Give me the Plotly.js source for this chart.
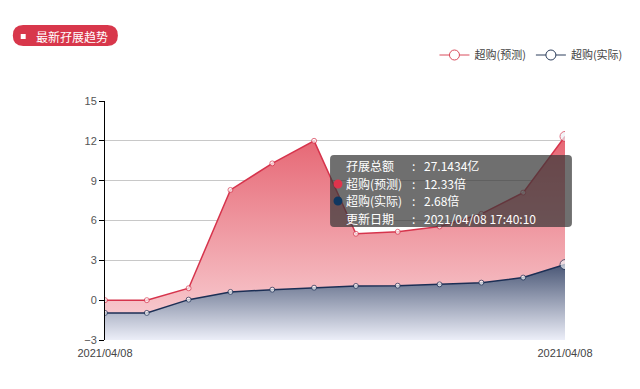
<!DOCTYPE html>
<html>
<head>
<meta charset="utf-8">
<script src="https://cdn.plot.ly/plotly-3.0.1.min.js"></script>
<style>html,body{margin:0;padding:0;background:#fff;}#chart{width:640px;height:389px;}</style>
</head>
<body>
<div id="chart"></div>
<script>
// ---- data ----
const categories = ["2021/04/08","2021/04/08","2021/04/08","2021/04/08","2021/04/08","2021/04/08",
                    "2021/04/08","2021/04/08","2021/04/08","2021/04/08","2021/04/08","2021/04/08"];
const forecast = [0, 0, 0.9, 8.3, 10.3, 12.0, 5.0, 5.15, 5.55, 6.5, 8.1, 12.33];
const actual   = [-0.96, -0.96, 0.04, 0.62, 0.79, 0.94, 1.07, 1.09, 1.19, 1.32, 1.7, 2.68];
const seriesNames = ["超购(预测)", "超购(实际)"];
const yTicks = [-3, 0, 3, 6, 9, 12, 15];
const titleText = "最新孖展趋势";
const tipLabels = ["孖展总额", "超购(预测)", "超购(实际)", "更新日期"];
const tipValues = ["27.1434亿", "12.33倍", "2.68倍", "2021/04/08 17:40:10"];

// ---- layout helpers ----
const W = 640, H = 389, ML = 105, MR = 71, MT = 101, MB = 49;
const PW = W - ML - MR, PH = H - MT - MB;
const px = x => (x - ML) / PW;
const py = y => (H - MB - y) / PH;
const idx = categories.map((_, i) => i);
const yMin = yTicks[0], yMax = yTicks[yTicks.length - 1];
const base = idx.map(() => yMin);
const last = idx.length - 1;
const font = '"Noto Sans CJK SC", "Noto Sans", sans-serif';
const numFont = '"Liberation Sans", Arial, sans-serif';

const redLine = '#d6344c', navy = '#1c2f55';

function markerSizes() { return idx.map(i => i === last ? 10 : 5); }
function markerFill() { return idx.map(i => i === last ? '#eef0f4' : '#fff'); }

const traces = [
  {x: idx, y: base, mode: 'lines', line: {width: 0}, showlegend: false, hoverinfo: 'skip'},
  {x: idx, y: forecast, mode: 'lines+markers', fill: 'tonexty', name: seriesNames[0], showlegend: false,
   line: {color: redLine, width: 1.5},
   marker: {size: markerSizes(), color: markerFill(), line: {color: redLine, width: 1}},
   fillgradient: {type: 'vertical', start: yMin, stop: Math.max(...forecast),
     colorscale: [[0, '#fad6da'], [1, '#e66673']]}},
  {x: idx, y: base, mode: 'lines', line: {width: 0}, showlegend: false, hoverinfo: 'skip'},
  {x: idx, y: actual, mode: 'lines+markers', fill: 'tonexty', name: seriesNames[1], showlegend: false,
   line: {color: navy, width: 1.5},
   marker: {size: markerSizes(), color: markerFill(), line: {color: navy, width: 1}},
   fillgradient: {type: 'vertical', start: yMin, stop: Math.max(...actual),
     colorscale: [[0, '#eceef8'], [1, '#4a5776']]}},
  {x: [null], y: [null], mode: 'lines+markers', name: seriesNames[0],
   line: {color: '#d94c5c', width: 1}, marker: {size: 10, color: '#fff', line: {color: '#d94c5c', width: 1}}},
  {x: [null], y: [null], mode: 'lines+markers', name: seriesNames[1],
   line: {color: '#2c3e5c', width: 1}, marker: {size: 10, color: '#fff', line: {color: '#2c3e5c', width: 1}}}
];

// rounded rect path in paper coords from pixel box
function rrect(x0, y0, x1, y1, r) {
  const P = (x, y) => px(x) + ',' + py(y);
  return 'M' + P(x0 + r, y0) + ' L' + P(x1 - r, y0) + ' Q' + P(x1, y0) + ' ' + P(x1, y0 + r) +
    ' L' + P(x1, y1 - r) + ' Q' + P(x1, y1) + ' ' + P(x1 - r, y1) +
    ' L' + P(x0 + r, y1) + ' Q' + P(x0, y1) + ' ' + P(x0, y1 - r) +
    ' L' + P(x0, y0 + r) + ' Q' + P(x0, y0) + ' ' + P(x0 + r, y0) + ' Z';
}

const shapes = [
  {type: 'path', xref: 'paper', yref: 'paper', path: rrect(12, 25, 118, 46, 10.5),
   fillcolor: '#d8374b', line: {width: 0}, layer: 'above'},
  {type: 'rect', xref: 'paper', yref: 'paper', x0: px(20), x1: px(25), y0: py(39), y1: py(34),
   fillcolor: '#fff', line: {width: 0}, layer: 'above'},
  {type: 'path', xref: 'paper', yref: 'paper', path: rrect(332, 155, 576, 227, 4),
   fillcolor: 'rgba(55,55,55,0.72)', line: {width: 0}, layer: 'above'},
  {type: 'circle', xref: 'paper', yref: 'paper', x0: px(335.5), x1: px(344.5), y0: py(188.5), y1: py(179.5),
   fillcolor: '#e0344c', line: {width: 0}, layer: 'above'},
  {type: 'circle', xref: 'paper', yref: 'paper', x0: px(335.5), x1: px(344.5), y0: py(205.5), y1: py(196.5),
   fillcolor: '#0f3760', line: {width: 0}, layer: 'above'}
];

const rowsY = [165.5, 183, 200.5, 218];
const tipFont = {family: font, size: 12, color: '#fff'};
const annotations = [
  {xref: 'paper', yref: 'paper', x: px(33), y: py(36), xanchor: 'left', yanchor: 'middle', showarrow: false,
   text: titleText, font: {family: font, size: 12, color: '#fff'}}
];
tipLabels.forEach((t, i) => {
  const common = {xref: 'paper', yref: 'paper', y: py(rowsY[i]), xanchor: 'left', yanchor: 'middle',
    showarrow: false, borderpad: 0, font: tipFont};
  annotations.push(Object.assign({x: px(347), text: t}, common));
  annotations.push(Object.assign({x: px(414), text: ':'}, common));
  annotations.push(Object.assign({x: px(426), text: tipValues[i]}, common));
});

const layout = {
  width: W, height: H,
  margin: {l: ML, r: MR, t: MT, b: MB, pad: 0},
  paper_bgcolor: '#fff', plot_bgcolor: '#fff',
  font: {family: font, size: 11, color: '#555'},
  showlegend: true,
  legend: {orientation: 'h', traceorder: 'normal', x: px(632), xanchor: 'right', y: py(55), yanchor: 'middle',
    font: {family: font, size: 11, color: '#444'}, itemwidth: 30, tracegroupgap: 0, bgcolor: 'rgba(0,0,0,0)'},
  xaxis: {range: [0, last], tickvals: [0, last], ticktext: [categories[0], categories[last]],
    showgrid: true, gridcolor: '#c8c8c8', zeroline: false, showline: false, ticks: '',
    ticklabelstandoff: 5,
    tickfont: {family: numFont, size: 11, color: '#444'}, fixedrange: true},
  yaxis: {range: [yMin, yMax], tickvals: yTicks, showgrid: true, gridcolor: '#c8c8c8', zeroline: false,
    showline: true, linecolor: '#000', linewidth: 1, ticks: 'outside', ticklen: 5, tickcolor: '#000',
    tickfont: {family: numFont, size: 11, color: '#555'}, fixedrange: true},
  shapes: shapes,
  annotations: annotations,
  hovermode: false
};

Plotly.newPlot('chart', traces, layout, {displayModeBar: false, staticPlot: true});
</script>
</body>
</html>
